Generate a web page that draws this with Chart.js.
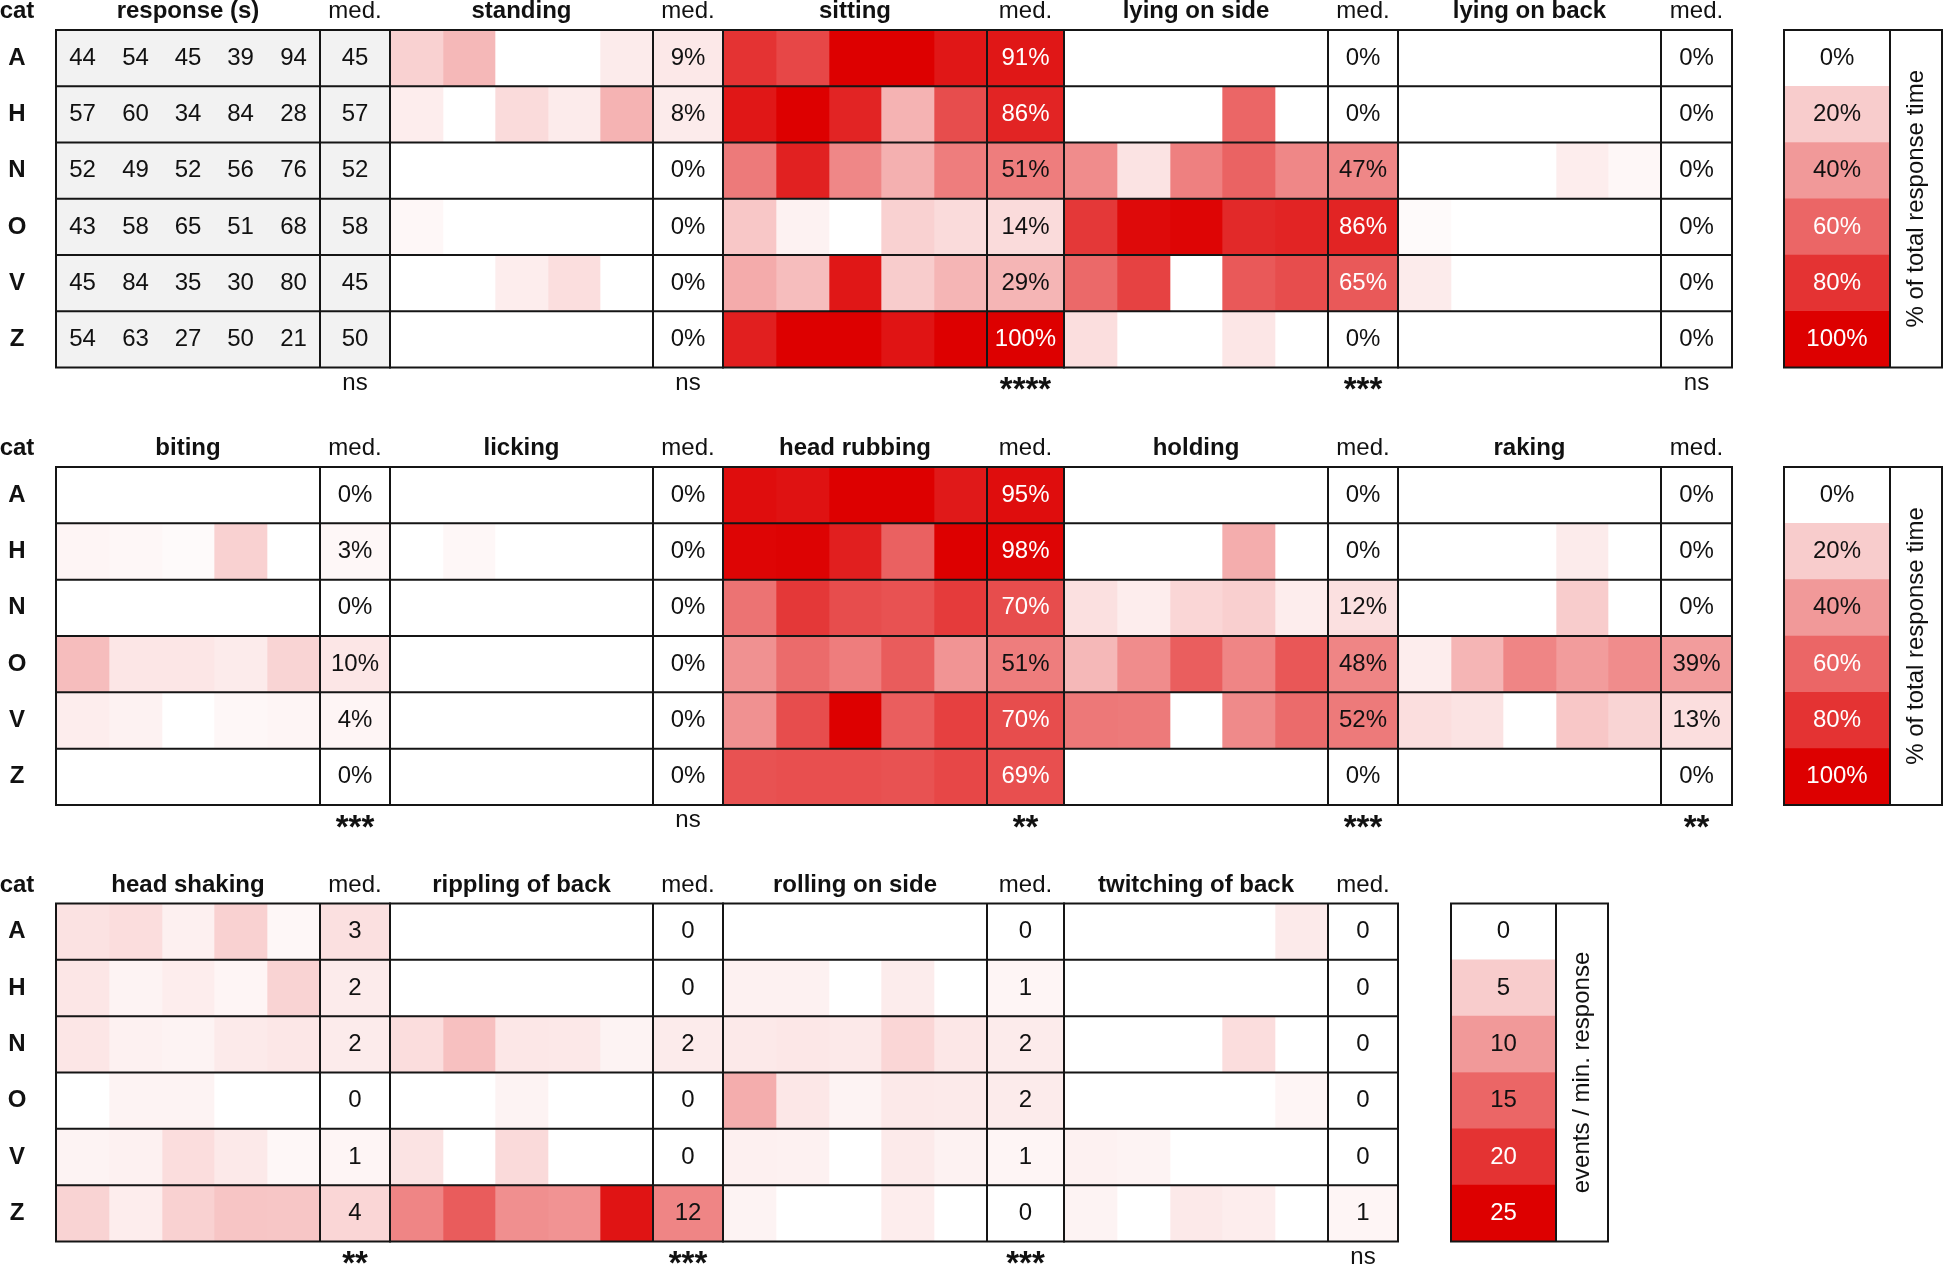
<!DOCTYPE html>
<html lang="en">
<head>
  <meta charset="UTF-8" />
  <title>Cat responses heatmap</title>
  <script src="https://cdn.jsdelivr.net/npm/chart.js@4.4.1/dist/chart.umd.min.js"></script>
  <style>
    body { margin: 0; background: #fff; }
    .wrap { position: relative; width: 1944px; height: 1267px; }
    canvas { position: absolute; left: 0; }
  </style>
</head>
<body>
  <div class="wrap">
    <canvas id="sec1" width="1944" height="420" style="top:0px"></canvas>
    <canvas id="sec2" width="1944" height="437" style="top:420px"></canvas>
    <canvas id="sec3" width="1944" height="410" style="top:857px"></canvas>
  </div>

  <script>
    const cats = ["A", "H", "N", "O", "V", "Z"];

    // response duration (s), 5 trials per cat
    const responseSec = [
      [44, 54, 45, 39, 94],
      [57, 60, 34, 84, 28],
      [52, 49, 52, 56, 76],
      [43, 58, 65, 51, 68],
      [45, 84, 35, 30, 80],
      [54, 63, 27, 50, 21],
    ];
    const responseMed = [45, 57, 52, 58, 45, 50];

    // % of total response time
    const standing = [
      [18, 28, 0, 0, 8],
      [7, 0, 14, 8, 30],
      [0, 0, 0, 0, 0],
      [3, 0, 0, 0, 0],
      [0, 0, 7, 13, 0],
      [0, 0, 0, 0, 0],
    ];
    const standingMed = [9, 8, 0, 0, 0, 0];

    const sitting = [
      [80, 72, 100, 100, 91],
      [91, 100, 86, 30, 70],
      [52, 87, 47, 31, 51],
      [22, 5, 0, 18, 14],
      [33, 26, 91, 20, 29],
      [88, 100, 100, 92, 100],
    ];
    const sittingMed = [91, 86, 51, 14, 29, 100];

    const lyingSide = [
      [0, 0, 0, 0, 0],
      [0, 0, 0, 60, 0],
      [45, 11, 50, 61, 47],
      [78, 96, 98, 84, 86],
      [59, 74, 0, 65, 70],
      [13, 0, 0, 10, 0],
    ];
    const lyingSideMed = [0, 0, 47, 86, 65, 0];

    const lyingBack = [
      [0, 0, 0, 0, 0],
      [0, 0, 0, 0, 0],
      [0, 0, 0, 7, 3],
      [2, 0, 0, 0, 0],
      [8, 0, 0, 0, 0],
      [0, 0, 0, 0, 0],
    ];
    const lyingBackMed = [0, 0, 0, 0, 0, 0];
    const sig1 = ["ns", "ns", "****", "***", "ns"];

    const biting = [
      [0, 0, 0, 0, 0],
      [4, 3, 2, 18, 0],
      [0, 0, 0, 0, 0],
      [26, 10, 10, 8, 17],
      [7, 5, 0, 3, 4],
      [0, 0, 0, 0, 0],
    ];
    const bitingMed = [0, 3, 0, 10, 4, 0];

    const licking = [
      [0, 0, 0, 0, 0],
      [0, 3, 0, 0, 0],
      [0, 0, 0, 0, 0],
      [0, 0, 0, 0, 0],
      [0, 0, 0, 0, 0],
      [0, 0, 0, 0, 0],
    ];
    const lickingMed = [0, 0, 0, 0, 0, 0];

    const headRubbing = [
      [95, 93, 100, 100, 90],
      [98, 99, 88, 62, 100],
      [55, 78, 70, 68, 77],
      [43, 58, 51, 64, 42],
      [43, 70, 100, 63, 75],
      [68, 69, 69, 68, 72],
    ];
    const headRubbingMed = [95, 98, 70, 51, 70, 69];

    const holding = [
      [0, 0, 0, 0, 0],
      [0, 0, 0, 32, 0],
      [12, 7, 16, 19, 7],
      [28, 45, 63, 48, 66],
      [53, 52, 0, 46, 58],
      [0, 0, 0, 0, 0],
    ];
    const holdingMed = [0, 0, 12, 48, 52, 0];

    const raking = [
      [0, 0, 0, 0, 0],
      [0, 0, 0, 8, 0],
      [0, 0, 0, 20, 0],
      [7, 29, 48, 39, 45],
      [13, 11, 0, 22, 17],
      [0, 0, 0, 0, 0],
    ];
    const rakingMed = [0, 0, 0, 39, 13, 0];
    const sig2 = ["***", "ns", "**", "***", "**"];

    // events / min. response
    const headShaking = [
      [2.8, 3.3, 1.5, 4.5, 0.8],
      [2.5, 1.2, 1.8, 1.0, 4.3],
      [2.5, 1.4, 1.2, 2.1, 2.4],
      [0, 1.2, 1.2, 0, 0],
      [1.2, 1.4, 3.3, 2.2, 0.8],
      [4.3, 1.8, 4.5, 5.7, 5.6],
    ];
    const headShakingMed = [3, 2, 2, 0, 1, 4];

    const ripplingBack = [
      [0, 0, 0, 0, 0],
      [0, 0, 0, 0, 0],
      [3.3, 6.2, 2.4, 2.3, 1.2],
      [0, 0, 1.2, 0, 0],
      [2.7, 0, 3.6, 0, 0],
      [12.0, 16.0, 11.0, 10.6, 23.0],
    ];
    const ripplingBackMed = [0, 0, 2, 0, 0, 12];

    const rollingSide = [
      [0, 0, 0, 0, 0],
      [1.4, 1.4, 0, 1.9, 0],
      [2.2, 2.4, 2.2, 4.0, 2.4],
      [8.0, 2.4, 1.2, 2.2, 2.1],
      [1.5, 1.4, 0, 2.1, 1.3],
      [1.2, 0, 0, 1.8, 0],
    ];
    const rollingSideMed = [0, 1, 2, 2, 1, 0];

    const twitchingBack = [
      [0, 0, 0, 0, 2.1],
      [0, 0, 0, 0, 0],
      [0, 0, 0, 3.3, 0],
      [0, 0, 0, 0, 1.0],
      [1.4, 1.2, 0, 0, 0],
      [1.2, 0, 2.2, 1.8, 0],
    ];
    const twitchingBackMed = [0, 0, 0, 0, 0, 1];
    const sig3 = ["**", "***", "***", "ns"];

    const pctLegend = [0, 20, 40, 60, 80, 100];
    const eventLegend = [0, 5, 10, 15, 20, 25];

    // layout (pixels; x scale runs 1:1 with the canvas)
    const FONT = '"Liberation Sans", Arial, sans-serif';
    const GREY = "#f2f2f2";
    const LINE = "#151515";
    const panelCols = [
      { x0: 56, x1: 320, x2: 390 },
      { x0: 390, x1: 653, x2: 723 },
      { x0: 723, x1: 987, x2: 1064 },
      { x0: 1064, x1: 1328, x2: 1398 },
      { x0: 1398, x1: 1661, x2: 1732 },
    ];

    function heat(v, max) {
      const t = Math.max(0, Math.min(1, v / max));
      const r = Math.round(255 - 34 * t);
      const g = Math.round(255 * (1 - t));
      return `rgb(${r},${g},${g})`;
    }

    function cellEdge(c, k) {
      return Math.round(c.x0 + (k * (c.x1 - c.x0)) / 5);
    }

    const sections = [
      {
        id: "sec1", padTop: 30, padBottom: 52.5,
        max: 100, unit: "%", whiteFrom: 55,
        panels: [
          { title: "response (s)", grey: true, cells: responseSec, med: responseMed },
          { title: "standing", cells: standing, med: standingMed },
          { title: "sitting", cells: sitting, med: sittingMed },
          { title: "lying on side", cells: lyingSide, med: lyingSideMed },
          { title: "lying on back", cells: lyingBack, med: lyingBackMed },
        ],
        sig: sig1,
        legend: pctLegend, legendLabel: "% of total response time",
        legendX: { x0: 1784, x1: 1890, x2: 1942 },
      },
      {
        id: "sec2", padTop: 47, padBottom: 52,
        max: 100, unit: "%", whiteFrom: 55,
        panels: [
          { title: "biting", cells: biting, med: bitingMed },
          { title: "licking", cells: licking, med: lickingMed },
          { title: "head rubbing", cells: headRubbing, med: headRubbingMed },
          { title: "holding", cells: holding, med: holdingMed },
          { title: "raking", cells: raking, med: rakingMed },
        ],
        sig: sig2,
        legend: pctLegend, legendLabel: "% of total response time",
        legendX: { x0: 1784, x1: 1890, x2: 1942 },
      },
      {
        id: "sec3", padTop: 46.5, padBottom: 25.5,
        max: 25, unit: "", whiteFrom: 17,
        panels: [
          { title: "head shaking", cells: headShaking, med: headShakingMed },
          { title: "rippling of back", cells: ripplingBack, med: ripplingBackMed },
          { title: "rolling on side", cells: rollingSide, med: rollingSideMed },
          { title: "twitching of back", cells: twitchingBack, med: twitchingBackMed },
        ],
        sig: sig3,
        legend: eventLegend, legendLabel: "events / min. response",
        legendX: { x0: 1451, x1: 1556, x2: 1608 },
      },
    ];

    function text(ctx, s, x, y, bold, color, baseline) {
      ctx.font = (bold ? "bold " : "") + "24px " + FONT;
      ctx.fillStyle = color || "#111";
      ctx.textAlign = "center";
      ctx.textBaseline = baseline || "middle";
      ctx.fillText(s, x, y);
    }

    // significance marks: "ns" as text, asterisks larger and centred on the same line
    function sigText(ctx, s, x, bottom) {
      if (s.indexOf("*") < 0) {
        text(ctx, s, x, bottom + 22, false, "#111", "alphabetic");
        return;
      }
      ctx.font = "bold 33px " + FONT;
      ctx.fillStyle = "#111";
      ctx.textAlign = "center";
      ctx.textBaseline = "alphabetic";
      const m = ctx.measureText(s);
      const mid = (m.actualBoundingBoxAscent - m.actualBoundingBoxDescent) / 2;
      ctx.fillText(s, x, bottom + 16 + mid);
    }

    function tablePlugin(sec) {
      return {
        id: "table",
        afterDatasetsDraw(chart) {
          const { ctx, chartArea } = chart;
          const yScale = chart.scales.y;
          const top = chartArea.top, bottom = chartArea.bottom;
          const rowH = (bottom - top) / cats.length;
          ctx.save();

          // row labels + header
          text(ctx, "cat", 17, top - 12, true, "#111", "alphabetic");
          cats.forEach((c, i) => text(ctx, c, 17, yScale.getPixelForValue(i), true));

          sec.panels.forEach((p, pi) => {
            const col = panelCols[pi];
            text(ctx, p.title, (col.x0 + col.x1) / 2, top - 12, true, "#111", "alphabetic");
            text(ctx, "med.", (col.x1 + col.x2) / 2, top - 12, false, "#111", "alphabetic");
            sigText(ctx, sec.sig[pi], (col.x1 + col.x2) / 2, bottom);

            cats.forEach((c, i) => {
              const yc = yScale.getPixelForValue(i);
              if (p.grey) {
                for (let k = 0; k < 5; k++) {
                  text(ctx, String(p.cells[i][k]), (cellEdge(col, k) + cellEdge(col, k + 1)) / 2, yc, false);
                }
                text(ctx, String(p.med[i]), (col.x1 + col.x2) / 2, yc, false);
              } else {
                const v = p.med[i];
                const color = v >= sec.whiteFrom ? "#fff" : "#111";
                text(ctx, v + sec.unit, (col.x1 + col.x2) / 2, yc, false, color);
              }
            });

            ctx.strokeStyle = LINE;
            ctx.lineWidth = 2;
            ctx.strokeRect(col.x0, top, col.x2 - col.x0, bottom - top);
            ctx.beginPath();
            ctx.moveTo(col.x1, top);
            ctx.lineTo(col.x1, bottom);
            for (let r = 1; r < cats.length; r++) {
              ctx.moveTo(col.x0, top + r * rowH);
              ctx.lineTo(col.x2, top + r * rowH);
            }
            ctx.stroke();
          });

          // colour key
          const L = sec.legendX;
          sec.legend.forEach((v, i) => {
            const color = v >= sec.whiteFrom ? "#fff" : "#111";
            text(ctx, v + sec.unit, (L.x0 + L.x1) / 2, yScale.getPixelForValue(i), false, color);
          });
          ctx.strokeStyle = LINE;
          ctx.lineWidth = 2;
          ctx.strokeRect(L.x0, top, L.x2 - L.x0, bottom - top);
          ctx.beginPath();
          ctx.moveTo(L.x1, top);
          ctx.lineTo(L.x1, bottom);
          ctx.stroke();

          ctx.translate((L.x1 + L.x2) / 2, (top + bottom) / 2);
          ctx.rotate(-Math.PI / 2);
          text(ctx, sec.legendLabel, 0, 0, false);
          ctx.restore();
        },
      };
    }

    function buildDatasets(sec) {
      const datasets = [];
      sec.panels.forEach((p, pi) => {
        const col = panelCols[pi];
        for (let k = 0; k < 5; k++) {
          const a = cellEdge(col, k), b = cellEdge(col, k + 1);
          datasets.push({
            data: cats.map(() => [a, b]),
            backgroundColor: p.cells.map((row) => (p.grey ? GREY : heat(row[k], sec.max))),
          });
        }
        datasets.push({
          data: cats.map(() => [col.x1, col.x2]),
          backgroundColor: p.med.map((v) => (p.grey ? GREY : heat(v, sec.max))),
        });
      });
      const L = sec.legendX;
      datasets.push({
        data: sec.legend.map(() => [L.x0, L.x1]),
        backgroundColor: sec.legend.map((v) => heat(v, sec.max)),
      });
      return datasets;
    }

    sections.forEach((sec) => {
      const ctx = document.getElementById(sec.id).getContext("2d");
      new Chart(ctx, {
        type: "bar",
        data: { labels: cats, datasets: buildDatasets(sec) },
        options: {
          indexAxis: "y",
          responsive: false,
          animation: false,
          devicePixelRatio: 1,
          layout: { padding: { left: 56, right: 2, top: sec.padTop, bottom: sec.padBottom } },
          datasets: {
            bar: { grouped: false, barPercentage: 1, categoryPercentage: 1, borderWidth: 0 },
          },
          scales: {
            x: { type: "linear", min: 56, max: 1942, display: false },
            y: { type: "category", display: false, offset: true },
          },
          plugins: { legend: { display: false }, tooltip: { enabled: false } },
          events: [],
        },
        plugins: [tablePlugin(sec)],
      });
    });
  </script>
</body>
</html>
